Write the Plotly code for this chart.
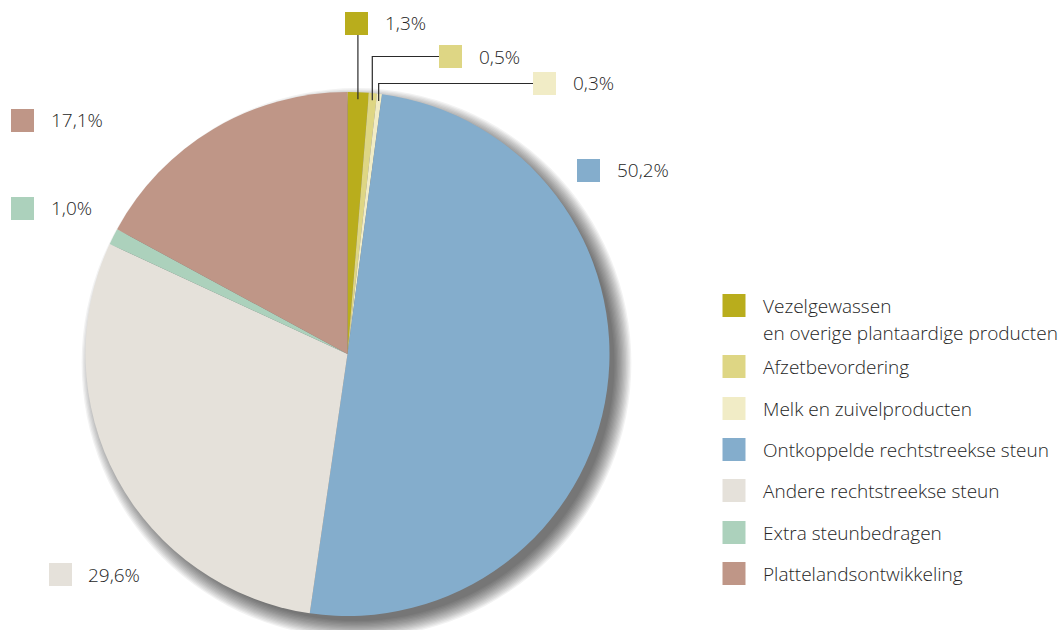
import math
import plotly.graph_objects as go

# ---- data ----
categories = [
    "Vezelgewassen<br>en overige plantaardige producten",
    "Afzetbevordering",
    "Melk en zuivelproducten",
    "Ontkoppelde rechtstreekse steun",
    "Andere rechtstreekse steun",
    "Extra steunbedragen",
    "Plattelandsontwikkeling",
]
shares = [1.3, 0.5, 0.3, 50.2, 29.6, 1.0, 17.1]
colors = ["#b9ad1c", "#ded684", "#f1ecc6", "#84adcc", "#e5e1da", "#acd1bc", "#bf9687"]

# ---- layout helpers (window pixel -> paper) ----
W, H = 1064, 630
def px(x): return x / W
def py(y): return 1 - y / H

CX, CY, R = 347.5, 354, 262
FONT = "Open Sans"
TXT = "#262626"
SQ = 23
FS = 19

fig = go.Figure()
fig.add_trace(go.Pie(
    labels=[c.replace("<br>", " ") for c in categories],
    values=shares,
    sort=False,
    direction="clockwise",
    rotation=0,
    marker=dict(colors=colors, line=dict(width=0)),
    textinfo="none",
    hoverinfo="label+percent",
    showlegend=False,
    domain=dict(x=[px(CX - R), px(CX + R)], y=[py(CY + R), py(CY - R)]),
))

shapes = []
annotations = []

# soft shadow behind the pie
off = 9
for k in range(14):
    rr = R - 4 + k * 1.3
    shapes.append(dict(
        type="circle", xref="paper", yref="paper", layer="below",
        x0=px(CX + off - rr), x1=px(CX + off + rr),
        y0=py(CY + off + rr), y1=py(CY + off - rr),
        fillcolor="rgba(0,0,0,0.05)", line=dict(width=0),
    ))

# percentage labels: square top-left + text x
label_pos = [
    (345, 12, 383),
    (439, 45, 477),
    (533, 72, 571),
    (577, 159, 615),
    (49, 563, 86),
    (11, 197, 49),
    (11, 109, 49),
]
leader = [True, True, True, False, False, False, False]

cum = 0.0
total = sum(shares)
for i, v in enumerate(shares):
    mid = (cum + v / 2) / total * 2 * math.pi
    cum += v
    sx, sy, tx = label_pos[i]
    shapes.append(dict(
        type="rect", xref="paper", yref="paper",
        x0=px(sx), x1=px(sx + SQ), y0=py(sy + SQ), y1=py(sy),
        fillcolor=colors[i], line=dict(width=0), layer="above",
    ))
    annotations.append(dict(
        x=px(tx), y=py(sy + SQ / 2), xref="paper", yref="paper",
        text=f"{v:.1f}".replace(".", ",") + "%",
        showarrow=False, xanchor="left", yanchor="middle",
        font=dict(family=FONT, size=FS, color=TXT, weight=300),
    ))
    if leader[i]:
        r2 = R - 7
        ex = CX + r2 * math.sin(mid)
        ey = CY - r2 * math.cos(mid)
        if i == 0:
            path = f"M{px(ex)},{py(sy + SQ)} L{px(ex)},{py(ey)}"
        else:
            ay = sy + SQ / 2
            path = f"M{px(sx)},{py(ay)} L{px(ex)},{py(ay)} L{px(ex)},{py(ey)}"
        shapes.append(dict(type="path", xref="paper", yref="paper", path=path,
                           line=dict(color="#2a2a2a", width=1.2), layer="above"))

# custom legend
leg_x, leg_tx = 722.5, 761
leg_y = [294, 355, 397, 438, 479, 521, 562]
for i, c in enumerate(categories):
    y0 = leg_y[i]
    shapes.append(dict(
        type="rect", xref="paper", yref="paper",
        x0=px(leg_x), x1=px(leg_x + SQ), y0=py(y0 + SQ), y1=py(y0),
        fillcolor=colors[i], line=dict(width=0), layer="above",
    ))
    lines = c.split("<br>")
    for j, ln in enumerate(lines):
        annotations.append(dict(
            x=px(leg_tx), y=py(y0 + SQ / 2 + j * 27), xref="paper", yref="paper",
            text=ln, showarrow=False, xanchor="left", yanchor="middle",
            font=dict(family=FONT, size=FS, color=TXT, weight=300),
        ))

fig.update_layout(
    width=W, height=H,
    margin=dict(l=0, r=0, t=0, b=0),
    paper_bgcolor="white", plot_bgcolor="white",
    shapes=shapes, annotations=annotations,
    showlegend=False,
)

fig.write_html(
    "out.html",
    config={"displayModeBar": False},
    post_script="document.body.style.margin='0';document.body.style.overflow='hidden';",
)
